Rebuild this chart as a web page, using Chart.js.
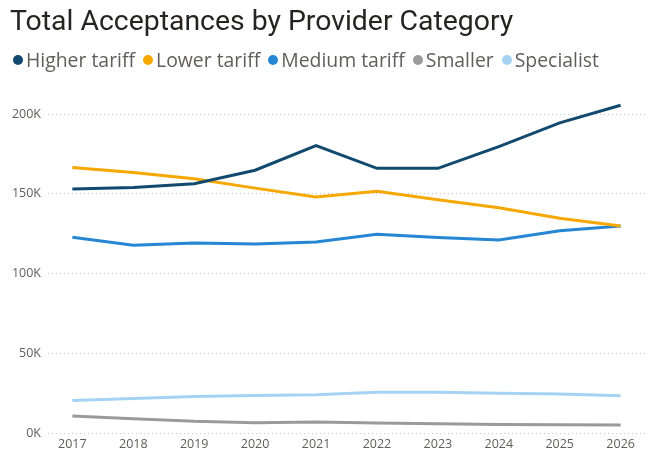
<!DOCTYPE html>
<html>
<head>
<meta charset="utf-8">
<script src="https://cdn.jsdelivr.net/npm/chart.js@4.4.1/dist/chart.umd.min.js"></script>
<style>
    html, body { margin: 0; padding: 0; background: #fff; }
    #wrap { position: relative; width: 657px; height: 475px; overflow: hidden; }
    #myChart { position: absolute; left: 0; top: 0; }
    #title { position: absolute; left: 10px; top: 4px; font-family: Roboto, sans-serif; font-size: 28.4px; color: #252423; white-space: nowrap; }
    #legend { position: absolute; left: 13px; top: 46px; display: flex; font-family: "Open Sans", sans-serif; font-size: 19.4px; color: #605E5C; white-space: nowrap; }
    .item { display: flex; align-items: center; margin-right: 8px; }
    .dot { width: 10px; height: 10px; border-radius: 50%; margin-right: 3px; }
</style>
</head>
<body>
<div id="wrap">
    <canvas id="myChart" width="657" height="475"></canvas>
    <div id="title">Total Acceptances by Provider Category</div>
    <div id="legend"></div>
</div>
<script>
const years = [2017, 2018, 2019, 2020, 2021, 2022, 2023, 2024, 2025, 2026]
const categories = ['Higher tariff', 'Lower tariff', 'Medium tariff', 'Smaller', 'Specialist']
const higherTariff = [153000, 154000, 156300, 164800, 180300, 166000, 166000, 179600, 194500, 205600]
const lowerTariff = [166600, 163400, 159400, 153600, 148000, 151600, 146300, 141300, 134700, 129800]
const mediumTariff = [122800, 117800, 119100, 118500, 119800, 124600, 122600, 121000, 126900, 129800]
const smaller = [10700, 9000, 7300, 6500, 6900, 6200, 5800, 5300, 5200, 5000]
const specialist = [20400, 21600, 22900, 23500, 24000, 25600, 25600, 24900, 24400, 23400]
const yTicks = [0, 50000, 100000, 150000, 200000]
const colors = ['#12496F', '#F6A800', '#2587D3', '#9A9A9A', '#A6D3F3']

document.addEventListener('DOMContentLoaded', () => {
    drawChart()
})

function drawChart() {
    let series = [higherTariff, lowerTariff, mediumTariff, smaller, specialist]
    let datasets = []
    series.forEach((values, i) => {
        datasets.push({
            label: categories[i],
            data: values.map((v, j) => ({ x: years[j], y: v })),
            borderColor: colors[i],
            backgroundColor: colors[i],
            borderWidth: 3,
            pointRadius: 0,
            tension: 0
        })
    })

    // legend as html, built from the datasets
    let legendHtml = ''
    datasets.forEach(ds => {
        legendHtml += `<div class="item"><span class="dot" style="background:${ds.borderColor}"></span>${ds.label}</div>`
    })
    document.getElementById('legend').innerHTML = legendHtml

    let ctx = document.getElementById('myChart')
    new Chart(ctx, {
        type: 'line',
        data: { datasets: datasets },
        options: {
            responsive: false,
            animation: false,
            layout: { padding: { top: 95, right: 12, bottom: 12, left: 0 } },
            plugins: {
                legend: { display: false },
                tooltip: { enabled: false }
            },
            scales: {
                x: {
                    type: 'linear',
                    min: 2016.6,
                    max: 2026.4,
                    afterBuildTicks: s => { s.ticks = years.map(v => ({ value: v })) },
                    afterFit: s => { s.height = 30 },
                    grid: { display: false, drawTicks: false },
                    border: { display: false },
                    ticks: {
                        padding: 4,
                        color: '#605E5C',
                        font: { family: 'Open Sans', size: 12.5 },
                        callback: v => String(v)
                    }
                },
                y: {
                    min: 0,
                    max: 212000,
                    afterBuildTicks: s => { s.ticks = yTicks.map(v => ({ value: v })) },
                    afterFit: s => { s.width = 48 },
                    grid: { color: '#C8C6C4', drawTicks: false, lineWidth: 1 },
                    border: { display: false, dash: [1, 3] },
                    ticks: {
                        padding: 7,
                        color: '#605E5C',
                        font: { family: 'Open Sans', size: 12.5 },
                        callback: v => (v / 1000) + 'K'
                    }
                }
            }
        }
    })
}
</script>
</body>
</html>
